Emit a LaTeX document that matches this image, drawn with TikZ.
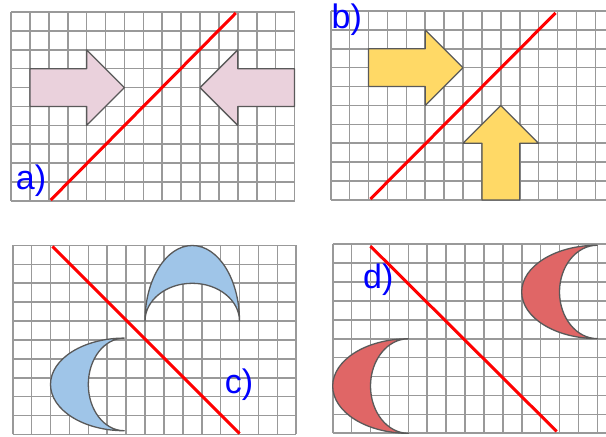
\documentclass[tikz,border=0pt]{standalone}
\usepackage{fontspec}
\setmainfont{Liberation Sans}
\usetikzlibrary{positioning}
\definecolor{gridgray}{HTML}{999999}
\definecolor{edgegray}{HTML}{595959}
\definecolor{mirrorred}{HTML}{FF0000}
\definecolor{labelblue}{HTML}{0000FF}
\definecolor{pinkfill}{HTML}{EAD1DC}
\definecolor{yellowfill}{HTML}{FFD966}
\definecolor{bluefill}{HTML}{9FC5E8}
\definecolor{redfill}{HTML}{E06666}

\begin{document}
\begin{tikzpicture}[
    gridline/.style={draw=gridgray, line width=1.6pt},
    mirror/.style={draw=mirrorred, line width=3pt},
    figure/.style={draw=edgegray, line width=1.3pt, line join=round},
    tag/.style={text=labelblue, inner sep=0pt, font=\fontsize{34}{40}\selectfont}
  ]
  \clip (0,0) rectangle (606pt,437pt);
  % a) two arrows
  \begin{scope}[shift={(11pt,236pt)}, x=18.9pt, y=18.9pt]
    \foreach \i in {0,...,15} \draw[gridline] (\i,0) -- (\i,10);
    \foreach \j in {0,...,10} \draw[gridline] (0,\j) -- (15,\j);
    \filldraw[figure, fill=pinkfill] (1,5) -- (4,5) -- (4,4) -- (6,6) -- (4,8) -- (4,7) -- (1,7) -- cycle;
    \filldraw[figure, fill=pinkfill] (15,5) -- (12,5) -- (12,4) -- (10,6) -- (12,8) -- (12,7) -- (15,7) -- cycle;
    \node[tag] (la) at (1.06,1.06) {a)};
    \coordinate (ma1) at (2.1,0.05);
    \coordinate (ma2) at (11.9,9.95);
    \draw[mirror] (ma1) -- (ma2);
  \end{scope}
  % b) right arrow and up arrow
  \begin{scope}[shift={(330.7pt,237pt)}, x=18.9pt, y=18.9pt]
    \foreach \i in {0,...,15} \draw[gridline] (\i,0) -- (\i,10);
    \foreach \j in {0,...,10} \draw[gridline] (0,\j) -- (15,\j);
    \filldraw[figure, fill=yellowfill] (2,6) -- (5,6) -- (5,5) -- (7,7) -- (5,9) -- (5,8) -- (2,8) -- cycle;
    \filldraw[figure, fill=yellowfill] (8,0) -- (10,0) -- (10,3) -- (11,3) -- (9,5) -- (7,3) -- (8,3) -- cycle;
    \node[tag] (lb) at (0.85,9.52) {b)};
    \coordinate (mb1) at (2.1,0.05);
    \coordinate (mb2) at (11.9,9.9);
    \draw[mirror] (mb1) -- (mb2);
  \end{scope}
  % c) blue crescents
  \begin{scope}[shift={(12.7pt,2.5pt)}, x=18.9pt, y=18.9pt]
    \foreach \i in {0,...,15} \draw[gridline] (\i,0) -- (\i,10);
    \foreach \j in {0,...,10} \draw[gridline] (0,\j) -- (15,\j);
    \filldraw[figure, fill=bluefill] (7,6) arc[start angle=180, end angle=0, x radius=2.5, y radius=4]
      arc[start angle=0, end angle=180, x radius=2.5, y radius=2] -- cycle;
    \filldraw[figure, fill=bluefill] (5.9,5.1) arc[start angle=90, end angle=270, x radius=3.9, y radius=2.45]
      arc[start angle=270, end angle=90, x radius=1.9, y radius=2.45] -- cycle;
    \node[tag] (lc) at (11.97,2.62) {c)};
    \coordinate (mc1) at (2.1,9.95);
    \coordinate (mc2) at (12,0.05);
    \draw[mirror] (mc1) -- (mc2);
  \end{scope}
  % d) red crescents
  \begin{scope}[shift={(332.7pt,3.7pt)}, x=18.9pt, y=18.9pt]
    \foreach \i in {0,...,15} \draw[gridline] (\i,0) -- (\i,10);
    \foreach \j in {0,...,10} \draw[gridline] (0,\j) -- (15,\j);
    \filldraw[figure, fill=redfill] (14,9.95) arc[start angle=90, end angle=270, x radius=4, y radius=2.47]
      arc[start angle=270, end angle=90, x radius=2, y radius=2.47] -- cycle;
    \filldraw[figure, fill=redfill] (4,5) arc[start angle=90, end angle=270, x radius=4, y radius=2.5]
      arc[start angle=270, end angle=90, x radius=2, y radius=2.5] -- cycle;
    \node[tag] (ld) at (2.41,8.11) {d)};
    \coordinate (md1) at (2,9.9);
    \coordinate (md2) at (11.85,0.1);
    \draw[mirror] (md1) -- (md2);
  \end{scope}
\end{tikzpicture}
\end{document}
